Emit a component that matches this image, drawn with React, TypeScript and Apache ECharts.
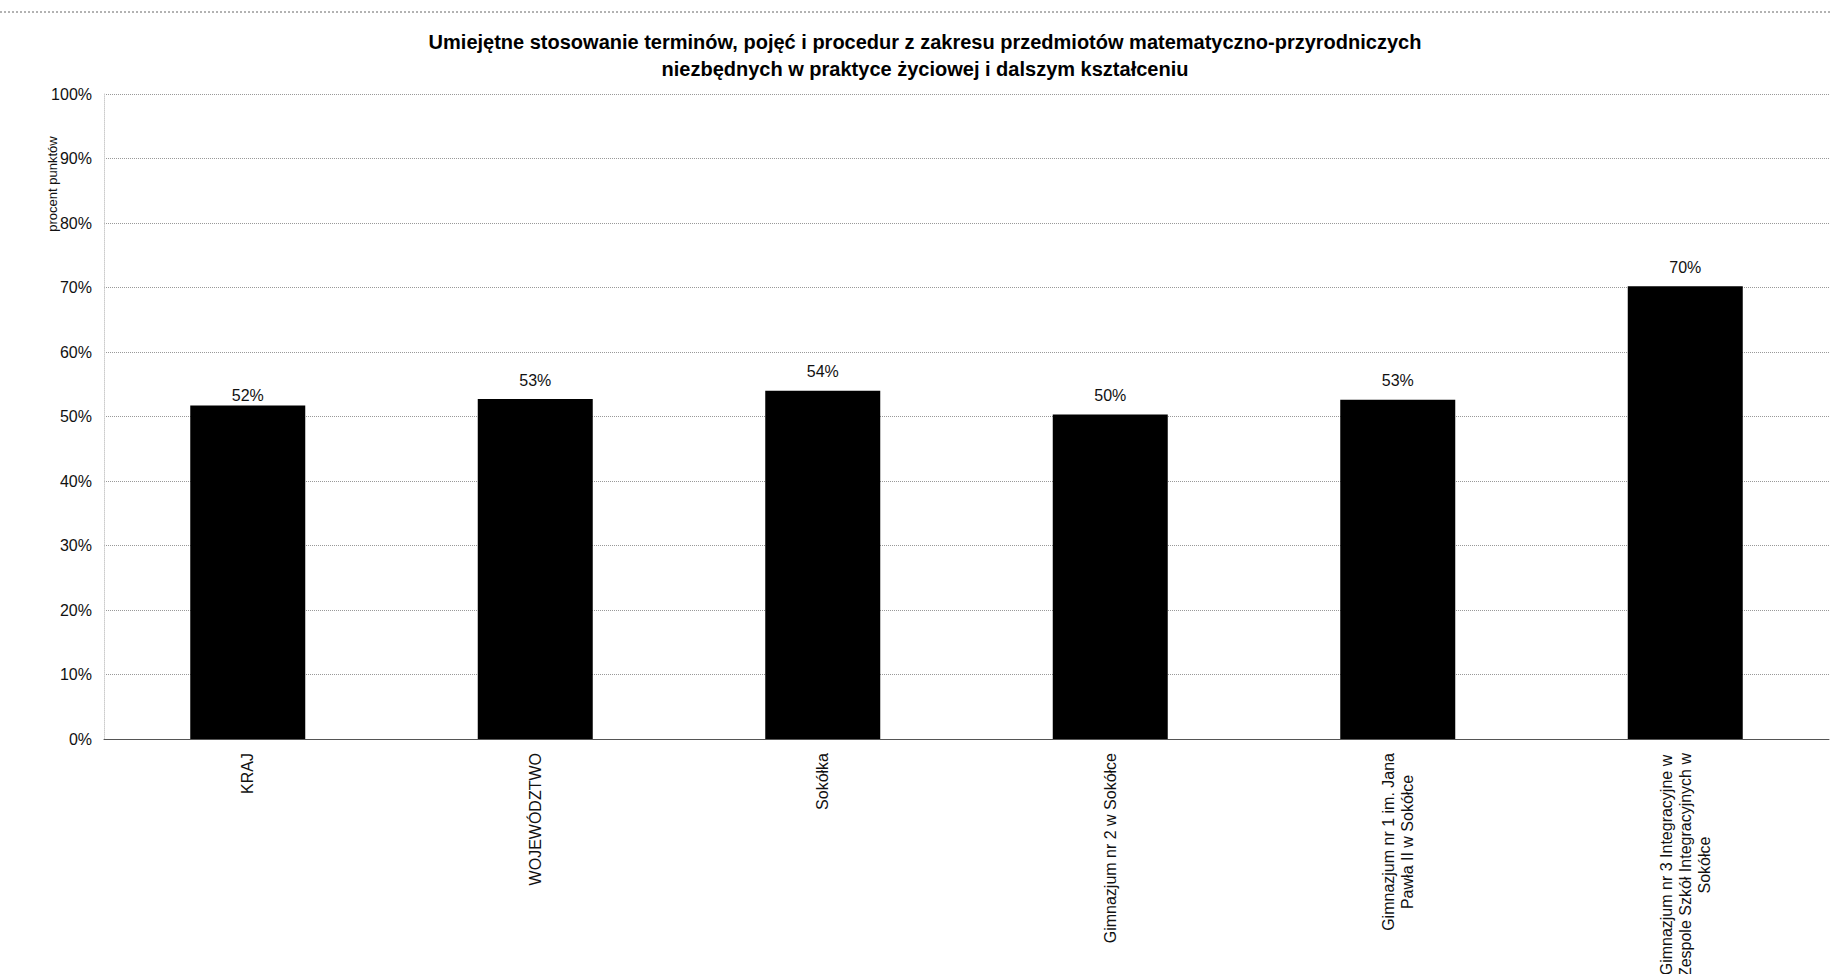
import React, { useEffect, useRef } from "react";
import * as echarts from "echarts";

const titleLines = [
  "Umiejętne stosowanie terminów, pojęć i procedur z zakresu przedmiotów matematyczno-przyrodniczych",
  "niezbędnych w praktyce życiowej i dalszym kształceniu",
];
const categories = [
  "KRAJ",
  "WOJEWÓDZTWO",
  "Sokółka",
  "Gimnazjum nr 2 w Sokółce",
  "Gimnazjum nr 1 im. Jana\nPawła II w Sokółce",
  "Gimnazjum nr 3 Integracyjne w\nZespole Szkół Integracyjnych w\nSokółce",
];
const values = [51.7, 52.7, 54.0, 50.3, 52.6, 70.2];
const yAxisName = "procent punktów";
const FONT = "'Liberation Sans', Arial, sans-serif";

export default function App() {
  const ref = useRef<HTMLDivElement>(null);
  useEffect(() => {
    if (!ref.current) return;
    const chart = echarts.init(ref.current, undefined, { renderer: "svg" });
    chart.setOption({
      animation: false,
      backgroundColor: "#ffffff",
      textStyle: { fontFamily: FONT },
      grid: {
        left: 104,
        right: 2,
        top: 94,
        bottom: 235,
        containLabel: false,
        outerBoundsMode: "none",
      },
      xAxis: {
        type: "category",
        data: categories,
        axisLine: { show: true, lineStyle: { color: "#555", width: 1 } },
        axisTick: { show: false },
        axisLabel: {
          interval: 0,
          rotate: 90,
          margin: 14,
          color: "#111",
          fontSize: 16,
          fontFamily: FONT,
          formatter: (v: string) =>
            v
              .split("\n")
              .map((l) => `{c|${l}}`)
              .join("\n"),
          rich: {
            c: { align: "center", fontSize: 16, lineHeight: 19, fontFamily: FONT, color: "#111" },
          },
        },
      },
      yAxis: {
        type: "value",
        min: 0,
        max: 100,
        interval: 10,
        axisLine: { show: true, lineStyle: { color: "#ccc", type: "dotted", width: 1 } },
        axisTick: { show: false },
        axisLabel: {
          formatter: "{value}%",
          color: "#111",
          fontSize: 16,
          margin: 12,
          fontFamily: FONT,
        },
        splitLine: { show: true, lineStyle: { color: "#999", type: "dotted", width: 1 } },
      },
      series: [
        {
          type: "bar",
          data: values.map((v, i) =>
            i === 0 ? { value: v, label: { distance: 2 } } : v
          ),
          barWidth: "40%",
          itemStyle: { color: "#000" },
          label: {
            show: true,
            position: "top",
            distance: 11,
            color: "#111",
            fontSize: 16,
            fontFamily: FONT,
            formatter: (p: any) => `${Math.round(p.value)}%`,
          },
        },
      ],
      graphic: [
        {
          type: "line",
          shape: { x1: 0, y1: 12, x2: 1831, y2: 12 },
          style: { stroke: "#666", lineWidth: 1, lineDash: [2, 2] },
        },
        {
          type: "text",
          x: 925,
          y: 42,
          style: {
            text: titleLines[0],
            font: `bold 20px ${FONT}`,
            fill: "#000",
            textAlign: "center",
            textVerticalAlign: "middle",
          },
        },
        {
          type: "text",
          x: 925,
          y: 69,
          style: {
            text: titleLines[1],
            font: `bold 20px ${FONT}`,
            fill: "#000",
            textAlign: "center",
            textVerticalAlign: "middle",
          },
        },
        {
          type: "text",
          x: 52,
          y: 184,
          rotation: Math.PI / 2,
          style: {
            text: yAxisName,
            font: `13px ${FONT}`,
            fill: "#111",
            textAlign: "center",
            textVerticalAlign: "middle",
          },
        },
      ],
    });
    return () => chart.dispose();
  }, []);
  return (
    <div
      ref={ref}
      style={{ position: "fixed", left: 0, top: 0, width: 1831, height: 974, background: "#fff" }}
    />
  );
}
